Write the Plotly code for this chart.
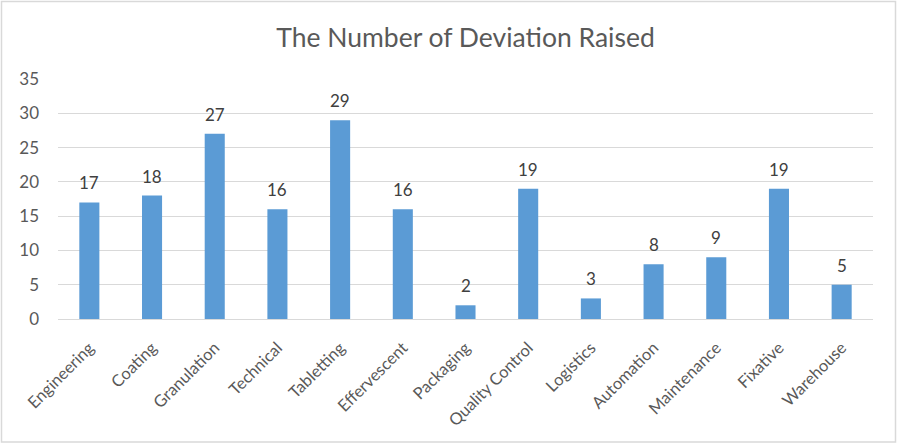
import plotly.graph_objects as go

categories = ["Engineering", "Coating", "Granulation", "Technical", "Tabletting",
              "Effervescent", "Packaging", "Quality Control", "Logistics",
              "Automation", "Maintenance", "Fixative", "Warehouse"]
values = [17, 18, 27, 16, 29, 16, 2, 19, 3, 8, 9, 19, 5]
y_ticks = [0, 5, 10, 15, 20, 25, 30, 35]

W, H = 897, 445
L, R, T, B = 58, 24, 79, 126
pw, ph = W - L - R, H - T - B

fig = go.Figure(go.Bar(
    x=categories, y=values,
    marker=dict(color="#5b9bd5", line=dict(width=0)),
    hoverinfo="skip",
))

for c, v in zip(categories, values):
    fig.add_annotation(x=c, y=v, text=str(v), showarrow=False,
                       yanchor="bottom", yshift=7,
                       font=dict(size=17, color="#404040", family="Lato"))

fig.update_layout(
    width=W, height=H,
    margin=dict(l=L, r=R, t=T, b=B),
    paper_bgcolor="white", plot_bgcolor="white",
    bargap=0.68,
    showlegend=False,
    font=dict(family="Lato", color="#595959", size=16),
    title=dict(text="The Number of Deviation Raised", x=0.5, xanchor="center",
               xref="paper", yref="container",
               y=1 - 38 / H, yanchor="middle",
               font=dict(size=26.5, color="#595959", family="Lato")),
    xaxis=dict(tickangle=-45, showgrid=False, showline=False, ticks="",
               automargin=False, ticklabelstandoff=15,
               tickfont=dict(size=16.5, color="#595959")),
    yaxis=dict(range=[0, 35], tickvals=y_ticks, showgrid=True, gridcolor="#d9d9d9",
               gridwidth=1, zeroline=True, zerolinecolor="#d9d9d9", zerolinewidth=1,
               showline=False, ticks="", ticklabelstandoff=18, automargin=False,
               tickfont=dict(size=17, color="#595959")),
    shapes=[dict(type="rect", xref="paper", yref="paper",
                 x0=(1.5 - L) / pw, x1=(W - 1.5 - L) / pw,
                 y0=-(H - 3 - T - ph) / ph, y1=1 + (T - 1.5) / ph,
                 line=dict(color="#d9d9d9", width=1.5), fillcolor="rgba(0,0,0,0)",
                 layer="below")],
)

fig.write_html("out.html", config={"displayModeBar": False},
               post_script="document.body.style.margin='0';document.body.style.overflow='hidden';")
